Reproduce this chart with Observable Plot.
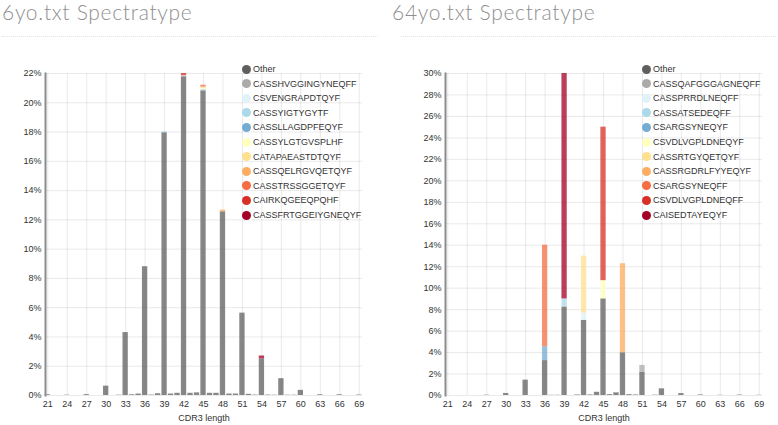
<!DOCTYPE html>
<html>
<head>
<meta charset="utf-8">
<script src="https://cdn.jsdelivr.net/npm/d3@7"></script>
<script src="https://cdn.jsdelivr.net/npm/@observablehq/plot@0.6"></script>
<style>
  html, body { margin: 0; padding: 0; background: #fff; }
  #page { position: relative; width: 778px; height: 425px; overflow: hidden; }
  .title { position: absolute; top: 0px; font-family: Lato, "Open Sans", sans-serif; font-weight: 300; font-size: 21px; letter-spacing: 0.7px; color: #8f8f8f; white-space: nowrap; line-height: 24px; }
  .rule { position: absolute; top: 36px; height: 0; border-top: 1px dotted #e3e3e3; }
  .chart { position: absolute; top: 55px; }
  .legend { position: absolute; font-family: "Liberation Sans", Arial, sans-serif; font-size: 9px; color: #333; }
  .legend .row { position: absolute; left: 0; height: 14px; line-height: 14px; white-space: nowrap; }
  .legend .dot { position: absolute; left: 0; top: 2.5px; width: 9px; height: 9px; border-radius: 50%; }
  .legend .lab { position: absolute; left: 11px; top: 0; }
</style>
</head>
<body>
<div id="page"></div>
<script>
// ---------- data ----------
const lengths = [21,22,23,24,25,26,27,28,29,30,31,32,33,34,35,36,37,38,39,40,41,42,43,44,45,46,47,48,49,50,51,52,53,54,55,56,57,58,59,60,61,62,63,64,65,66,67,68,69];
const xDomain = [20.65, 69.5];
const xTickValues = [21,24,27,30,33,36,39,42,45,48,51,54,57,60,63,66,69];
const yTicks6 = [0,2,4,6,8,10,12,14,16,18,20,22];
const yTicks64 = [0,2,4,6,8,10,12,14,16,18,20,22,24,26,28,30];
const palette = ["#5f5f5f","#aaaaaa","#e0f3f8","#abd9e9","#74add1","#ffffbf","#fee090","#fdae61","#f46d43","#d73027","#a50026"];

// 6yo: "Other" share per CDR3 length (%)
const other6 = [0.05,0,0,0.02,0,0,0.06,0,0,0.64,0,0.02,4.3,0.05,0.1,8.8,0.03,0.12,17.95,0.1,0.15,21.78,0.15,0.18,20.8,0.15,0.15,12.55,0.1,0.1,5.6,0.08,0.03,2.5,0.03,0.02,1.15,0.02,0.02,0.35,0,0,0.05,0,0,0.05,0,0,0.03];
const clones6 = ["CASSHVGGINGYNEQFF","CSVENGRAPDTQYF","CASSYIGTYGYTF","CASSLLAGDPFEQYF","CASSYLGTGVSPLHF","CATAPAEASTDTQYF","CASSQELRGVQETQYF","CASSTRSSGGETQYF","CAIRKQGEEQPQHF","CASSFRTGGEIYGNEQYF"];
const cloneLen6 = [51,42,39,45,45,45,48,45,42,54];
const cloneVal6 = [0.05,0.06,0.07,0.08,0.09,0.1,0.12,0.13,0.16,0.2];

// 64yo
const other64 = [0,0,0,0,0,0,0.03,0,0,0.19,0,0,1.43,0,0,3.25,0.02,0.02,8.24,0,0.05,7.0,0.05,0.3,9.0,0.08,0.25,3.98,0.08,0.05,2.15,0,0.03,0.62,0,0,0.18,0,0,0.05,0,0,0.02,0,0,0.04,0,0,0.02];
const clones64 = ["CASSQAFGGGAGNEQFF","CASSPRRDLNEQFF","CASSATSEDEQFF","CSARGSYNEQYF","CSVDLVGPLDNEQYF","CASSRTGYQETQYF","CASSRGDRLFYYEQYF","CSARGSYNEQFF","CSVDLVGPLDNEQFF","CAISEDTAYEQYF"];
const cloneLen64 = [51,42,39,36,45,42,48,36,45,39];
const cloneVal64 = [0.65,0.68,0.76,1.3,1.7,5.3,8.3,9.45,14.3,21.0];

// ---------- drawing ----------
const page = document.getElementById("page");

function addPanel({left, chartLeft, titleText, ruleLeft, ruleWidth, other, clones, cloneLen, cloneVal, yMax, yTicks, mLeft, mRight, legendLeft}) {
  const t = document.createElement("div");
  t.className = "title"; t.style.left = left + "px"; t.textContent = titleText;
  page.appendChild(t);
  const r = document.createElement("div");
  r.className = "rule"; r.style.left = ruleLeft + "px"; r.style.width = ruleWidth + "px";
  page.appendChild(r);

  const names = ["Other", ...clones];
  const rows = [];
  lengths.forEach((len, i) => { if (other[i] > 0) rows.push({len, series: "Other", value: other[i]}); });
  clones.forEach((name, i) => rows.push({len: cloneLen[i], series: name, value: cloneVal[i]}));

  const chart = Plot.plot({
    width: 389, height: 370,
    marginTop: 18, marginBottom: 30, marginLeft: mLeft, marginRight: mRight,
    style: {fontFamily: "'Liberation Sans', Arial, sans-serif", fontSize: "9px", color: "#333", background: "transparent"},
    x: {domain: xDomain, ticks: xTickValues, tickSize: 0, tickPadding: 5, grid: true,
        label: "CDR3 length", labelAnchor: "center", labelOffset: 25, labelArrow: "none"},
    y: {domain: [0, yMax], ticks: yTicks, tickFormat: d => d + "%", tickSize: 0, tickPadding: 4,
        label: null, grid: true},
    color: {domain: names, range: palette},
    marks: [
      Plot.rectY(rows, {x1: d => d.len - 0.41, x2: d => d.len + 0.41, y: "value", fill: "series", fillOpacity: 0.75, order: names}),
      Plot.frame({anchor: "left", stroke: "#8c8c8c", strokeWidth: 2})
    ]
  });
  const wrap = document.createElement("div");
  wrap.className = "chart"; wrap.style.left = chartLeft + "px";
  wrap.appendChild(chart);
  page.appendChild(wrap);

  const lg = document.createElement("div");
  lg.className = "legend"; lg.style.left = legendLeft + "px"; lg.style.top = "62px";
  names.forEach((n, i) => {
    const row = document.createElement("div");
    row.className = "row"; row.style.top = (i * 14.6) + "px";
    const d = document.createElement("span"); d.className = "dot"; d.style.background = palette[i];
    const l = document.createElement("span"); l.className = "lab"; l.textContent = n;
    row.appendChild(d); row.appendChild(l); lg.appendChild(row);
  });
  page.appendChild(lg);
}

addPanel({left: 2, chartLeft: 0, titleText: "6yo.txt Spectratype", ruleLeft: 2, ruleWidth: 376,
  other: other6, clones: clones6, cloneLen: cloneLen6, cloneVal: cloneVal6,
  yMax: 22, yTicks: yTicks6, mLeft: 45, mRight: 27, legendLeft: 242});
addPanel({left: 392, chartLeft: 389, titleText: "64yo.txt Spectratype", ruleLeft: 401, ruleWidth: 375,
  other: other64, clones: clones64, cloneLen: cloneLen64, cloneVal: cloneVal64,
  yMax: 30, yTicks: yTicks64, mLeft: 56, mRight: 16, legendLeft: 642});
</script>
</body>
</html>
